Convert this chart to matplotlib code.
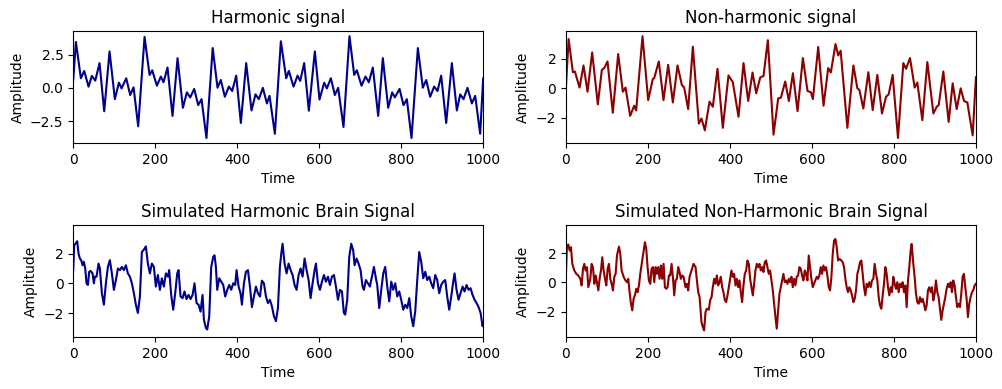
import numpy as np
import matplotlib
matplotlib.use("Agg")
import matplotlib.pyplot as plt

# (time, amplitude) pairs
harmonic = [
    (0, 0.6), (6.5, 3.45), (18.7, 0.72), (26.8, 1.27), (37.4, 0.09), (45.5, 0.9), (53.7, 0.54),
    (64.2, 1.86), (75.6, -1.76), (88.6, 2.74), (101.6, -0.85), (111.4, 0.39), (117.9, -0.04),
    (129.3, 0.72), (139, -0.54), (147.2, 0.04), (158.5, -2.89), (174, 3.83), (186.2, 0.97),
    (192.7, 1.32), (204.1, 0.16), (213.8, 0.85), (220.3, 0.42), (230, 1.53), (242.2, -2.11),
    (254.5, 2.23), (267.5, -1.5), (277.2, -0.34), (285.4, -0.72), (295.1, -0.08), (304.9, -1.3),
    (313, -0.85), (325, -3.77), (340.2, 2.99), (352, 0.01), (360, 0.59), (369.9, -0.67),
    (379.7, 0.1), (387.8, -0.24), (397.6, 0.92), (408.9, -2.64), (421.9, 1.86), (434.9, -1.7),
    (444.7, -0.49), (452.8, -0.85), (462.6, 0.0), (472.4, -1.17), (478.9, -0.6), (491.9, -3.45),
    (506.5, 3.5), (519.5, 0.72), (526, 1.27), (537.4, 0.09), (547.2, 0.92), (553.7, 0.52),
    (563.4, 1.86), (574.8, -1.72), (589.4, 2.74), (600.8, -0.88), (612.2, 0.39), (618.7, -0.04),
    (628.5, 0.72), (638.2, -0.54), (646.3, 0.0), (659.3, -2.94), (673.9, 3.88), (685.4, 0.97),
    (691.9, 1.32), (703.3, 0.16), (713, 0.85), (721.1, 0.42), (730.9, 1.53), (743.9, -2.11),
    (755.3, 2.23), (768.3, -1.5), (778, -0.34), (784.6, -0.72), (796, -0.08), (805.7, -1.3),
    (813.8, -0.85), (825.2, -3.77), (840.7, 2.99), (852.8, 0.01), (861, 0.59), (870.7, -0.67),
    (880.5, 0.1), (888.6, -0.24), (897.6, 0.92), (909.8, -2.64), (923.6, 1.86), (935.8, -1.7),
    (943.9, -0.49), (952, -0.85), (961.8, 0.0), (972.4, -1.17), (980.5, -0.6), (992.7, -3.45),
    (1000, 0.7),
]

non_harmonic = [
    (0, 0.12), (6.4, 3.34), (16.9, 1.09), (21.7, 1.14), (33.1, 0.05), (42.8, 1.55), (52.6, -0.23),
    (63.9, 2.43), (77.7, -1.09), (87.5, 1.25), (93.2, 1.37), (101.3, 1.82), (114.3, -1.66),
    (127.3, 2.32), (138.7, -0.23), (145.2, 0.05), (156.6, -1.87), (166.3, -1.18), (171.2, -1.5),
    (186.7, 3.53), (200.5, -0.8), (211.9, 0.64), (215.1, 0.68), (226.5, 1.82), (237.9, -0.8),
    (249.3, 1.59), (260.7, -0.96), (272.1, 1.55), (282.6, 0.23), (288.3, 0.05), (298.1, -1.41),
    (309.5, 2.82), (324.1, -2.39), (330.6, -2.05), (338.7, -2.85), (350.1, -0.91), (358.2, -1.25),
    (369.6, 1.32), (382.6, -2.68), (396.4, 0.87), (407, 0.41), (420.9, -1.93), (433.1, 1.71),
    (444.5, -0.86), (455.1, 1.07), (464, -0.34), (473.8, 0.73), (481.9, 0.84), (492.5, 3.26),
    (506.3, -3.14), (517.7, -0.68), (524.2, -0.64), (534.8, 0.46), (543.7, -0.86), (553.5, 1.02),
    (564.9, -1.55), (577.9, 2.05), (589.2, -0.18), (597.4, -0.27), (602.3, -0.73), (615.3, 2.8),
    (628.3, -1.18), (639.6, 1.37), (646.1, 1.07), (657.5, 3.0), (664, 2.23), (670, 2.55),
    (686.4, -2.68), (701.1, 1.55), (710.8, 0.0), (715.7, -0.11), (725.4, -1.37), (737.6, 1.09),
    (748.2, -1.48), (759.5, 0.91), (770.9, -1.71), (780.7, -0.57), (787.2, -0.41), (796.9, 0.91),
    (809.9, -3.37), (822.9, 1.71), (829.5, 1.32), (839.2, 2.05), (850.6, 0.05), (857.1, 0.39),
    (869.3, -2.16), (881.5, 1.78), (896.2, -1.71), (904.3, -1.25), (909.2, -1.14), (920.5, 1.14),
    (933.5, -2.28), (943.3, 0.34), (953.1, -1.41), (962.8, 0.0), (971, -0.86), (979.1, -0.96),
    (992.1, -3.19), (1000, 0.75),
]

brain_harmonic = [
    (0, 0.9), (2.4, 2.57), (6.5, 2.72), (9.8, 2.85), (13, 2.01), (16.3, 1.68), (19.5, 1.57),
    (22.8, 1.23), (26, 1.46), (29.3, 1.01), (32.5, 0.01), (35.8, -0.1), (39, 0.79), (42.3, 0.85),
    (47.2, 0.68), (50.4, 0.01), (52.8, 0.46), (56.9, 0.46), (61.8, 1.34), (65, 1.01), (69.9, -0.66),
    (74.8, -1.43), (79.7, 0.01), (84.6, 1.12), (89.4, 1.57), (94.3, 0.68), (99.2, -0.43),
    (104.1, 0.23), (109, 1.01), (113.8, 0.9), (118.7, 1.12), (123.6, 0.9), (128.5, 1.23),
    (133.3, 0.68), (138.2, 0.46), (143.1, 0.01), (148, -0.66), (152.8, -1.43), (157.7, -1.99),
    (162.6, -0.88), (167.5, 2.12), (172.3, 2.28), (177.2, 2.5), (182.1, 1.34), (187, 0.68),
    (191.8, 1.34), (196.7, 1.12), (201.6, -0.21), (206.5, 0.57), (211.4, -0.43), (216.2, 0.35),
    (221.1, -0.21), (226, 0.68), (230.9, 0.46), (234.1, 0.9), (239, -0.77), (243.9, -1.77),
    (248.8, -0.66), (253.7, 0.68), (256.9, 0.9), (261.8, -0.88), (266.7, -0.99), (271.5, -0.54),
    (276.4, -1.05), (281.3, -0.77), (286.2, -1.05), (291.1, -0.77), (295.9, 0.01), (300.8, -1.32),
    (305.7, -1.43), (310.6, -1.9), (315.5, -0.77), (318.8, -2.43), (323.6, -3.0), (326.9, -3.1),
    (331.8, -2.21), (336.6, 1.1), (341.5, 1.79), (344.7, 1.9), (348, 1.12), (351.3, -0.43),
    (356.2, 0.35), (361, 0.12), (365.9, -0.1), (370.8, -0.88), (375.7, -0.43), (380.6, -0.1),
    (385.4, -0.43), (390.3, 0.01), (395.2, -0.1), (398.5, 0.9), (403.4, -0.21), (408.2, -0.66),
    (411.5, -1.43), (416.4, 0.01), (421.3, 0.79), (426.2, 0.9), (431.1, -0.21), (435.9, -1.59),
    (440.8, -0.88), (445.7, -0.21), (450.6, -0.66), (455.5, -0.88), (460.3, 0.19), (465.2, 0.01),
    (470.1, -0.88), (475, -1.32), (479.8, -1.1), (484.7, -1.54), (489.6, -2.21), (494.5, -2.54),
    (499.3, -1.66), (504.2, 1.12), (507.5, 2.01), (510.7, 2.68), (515.6, 1.34), (520.5, 0.68),
    (525.4, 1.34), (530.3, 0.9), (535.1, 0.57), (540, -0.1), (544.9, -0.43), (549.8, 0.57),
    (554.7, 1.01), (559.5, 0.46), (564.4, 1.68), (569.3, 0.9), (574.2, 0.23), (579, -0.99),
    (583.9, 0.01), (588.8, 0.9), (592.1, 1.34), (597, 0.01), (601.8, -0.43), (606.7, 0.12),
    (611.6, 0.57), (616.5, 0.12), (621.4, 0.46), (626.2, -0.1), (631.1, 0.46), (636, 0.57),
    (640.9, -0.21), (645.8, -1.1), (650.7, -0.43), (655.5, -0.54), (660.2, -1.99), (663.5, -2.1),
    (668.4, -1.1), (673.3, 1.79), (678.2, 2.68), (683, 2.23), (686.3, 1.23), (691.2, 1.68),
    (696.1, 1.34), (700.9, 0.9), (705.8, -0.21), (709.1, -0.43), (714, 0.23), (718.8, 0.01),
    (723.7, -0.21), (728.6, 0.46), (733.5, 1.12), (738.3, 0.35), (741.6, -0.1), (746.5, -1.66),
    (751.4, -0.43), (756.3, 0.68), (761.1, 1.12), (766, -0.21), (770.9, -1.21), (775.8, 0.12),
    (780.6, -0.43), (785.5, 0.01), (790.4, -0.88), (795.3, -0.54), (800.1, -1.1), (805, -1.77),
    (809.9, -1.43), (814.8, -1.66), (819.7, -0.99), (824.5, -2.21), (829.4, -2.88), (834.3, -1.88),
    (839.2, 0.23), (844, 2.12), (848.9, 1.46), (853.8, 0.35), (858.7, 0.79), (863.6, 0.23),
    (868.4, 0.46), (873.3, 0.01), (878.2, -0.32), (883.1, 0.57), (888, 0.23), (892.8, -0.66),
    (897.7, -0.1), (902.6, 0.12), (907.5, 0.23), (912.3, -0.88), (917.2, -1.77), (922.1, -0.88),
    (927, 0.12), (930.2, 0.68), (935.1, -0.43), (940, -1.1), (944.9, -0.66), (949.8, -0.21),
    (954.6, -0.54), (959.5, -0.1), (964.4, -0.43), (969.3, -0.32), (974.1, -0.77), (979, -1.1),
    (983.9, -1.32), (988.8, -1.59), (993.7, -1.99), (998.5, -2.88), (1000, -2.7),
]

brain_non_harmonic = [
    (0, 0.59), (2.4, 2.52), (5.7, 2.59), (8.9, 2.18), (12.2, 2.41), (15.4, 1.27), (20.3, 0.82),
    (25.2, 0.59), (30.1, 0.48), (35, 0.25), (38.2, -0.2), (41.5, 0.93), (44.7, 1.27), (48, 0.82),
    (51.2, 1.05), (54.5, -0.32), (59.4, 0.25), (62.6, 1.27), (65.9, 1.05), (69.1, -0.09),
    (72.4, 0.48), (75.6, 0.02), (78.9, -0.54), (82.1, 0.25), (85.4, 0.82), (88.6, 1.72),
    (91.9, 0.82), (95.1, 0.25), (98.4, -0.2), (101.6, 0.93), (104.9, 1.27), (108.1, 0.25),
    (111.4, -0.09), (114.6, -0.54), (117.9, 0.39), (121.1, 0.59), (124.4, 1.84), (129.2, 2.45),
    (132.5, 1.95), (135.7, 0.82), (140.6, 0.39), (143.9, 0.2), (148.7, 0.02), (152, 0.25),
    (155.2, -0.66), (158.5, -1.45), (161.7, -1.9), (165, -1.1), (168.2, -0.88), (171.5, -0.43),
    (174.7, -0.66), (178, -0.2), (181.2, 0.59), (186.1, 1.5), (189.3, 2.07), (192.6, 2.75),
    (195.8, 2.3), (199.1, 1.05), (202.3, 0.14), (205.6, -0.09), (208.8, 0.93), (212.1, 1.05),
    (215.3, 0.02), (218.6, 1.05), (221.8, 0.59), (225.1, 1.05), (228.3, 0.25), (231.6, 1.16),
    (234.8, 0.25), (238.1, 1.27), (241.3, -0.32), (244.6, -0.43), (247.8, -0.32), (251.1, 0.48),
    (254.3, 0.48), (257.6, 1.27), (260.8, 0.39), (264.1, -0.88), (267.3, 0.14), (270.6, 0.25),
    (273.8, 1.05), (277.1, 0.71), (280.3, 0.25), (283.6, 0.48), (286.8, 0.39), (291.7, -0.32),
    (295, -0.09), (298.2, -0.54), (301.5, 0.39), (306.3, 0.82), (311.2, 1.27), (316.1, 1.05),
    (319.4, 0.14), (322.6, -0.66), (325.9, -1.0), (330.6, -2.7), (333.8, -3.04), (337, -3.27),
    (340.3, -2.02), (343.6, -1.79), (348.4, -1.86), (351.7, -1.2), (355, -1.02), (358.2, -0.32),
    (361.5, 0.25), (364.7, -0.09), (368, 0.48), (371.2, -0.2), (374.5, 0.02), (377.7, 0.39),
    (381, -0.32), (384.2, -0.66), (387.5, -1.2), (390.7, -1.34), (394, -0.88), (397.2, -0.32),
    (400.5, 0.25), (403.7, 0.82), (407, 0.39), (410.2, 0.59), (413.5, -0.2), (416.7, 0.25),
    (420, -0.32), (423.2, 0.14), (426.5, -0.66), (429.7, -1.34), (433, -0.2), (436.2, 0.59),
    (439.5, 0.82), (442.7, 1.5), (446, 1.27), (449.2, 0.25), (452.5, -0.32), (455.7, -0.88),
    (459, -0.09), (462.2, 0.82), (465.5, 1.27), (468.7, 1.05), (472, 1.27), (475.2, 0.82),
    (478.5, 1.05), (481.7, 0.71), (485, 1.39), (488.2, 1.5), (491.5, 1.05), (494.7, 0.59),
    (498, 0.82), (501.2, 0.14), (504.5, -0.54), (507.7, -1.45), (511, -2.36), (514.2, -3.15),
    (517.5, -1.9), (520.7, -0.77), (524, -0.32), (527.2, 0.14), (530.5, 0.59), (533.7, 0.02),
    (537, 0.14), (540.2, -0.09), (543.5, 0.25), (546.7, 0.02), (550, 0.39), (553.2, -0.32),
    (556.5, 0.25), (559.7, -0.2), (563, 0.39), (566.2, 0.48), (569.5, 1.05), (572.7, 0.93),
    (576, 0.48), (579.2, 0.14), (582.5, 0.82), (585.7, 0.59), (589, 0.14), (592.2, 1.84),
    (595.5, 1.05), (598.7, 0.25), (602, -0.32), (605.2, -0.09), (608.5, 0.14), (611.7, 0.39),
    (615, 0.25), (618.2, 0.48), (621.5, 1.05), (624.7, 0.59), (628, 1.16), (631.2, 0.82),
    (634.5, 1.05), (637.7, 0.48), (641, -0.32), (644.2, -0.54), (647.5, 0.39), (650.7, 1.95),
    (654, 2.86), (657.2, 2.97), (660.5, 2.41), (663.7, 1.5), (667, 1.61), (671.8, 1.5),
    (675, 1.39), (678.3, 1.05), (681.5, 0.25), (684.8, -0.32), (688, -0.66), (691.3, -0.32),
    (694.5, -0.54), (697.8, -0.88), (701, -1.34), (704.3, -1.11), (707.5, -0.54), (710.8, 0.59),
    (714, 0.93), (717.3, 1.39), (720.5, 1.5), (723.8, 0.59), (727, -0.32), (730.3, -0.88),
    (733.5, -0.09), (736.8, -0.32), (740, 0.02), (743.3, -0.32), (746.5, 0.14), (749.8, 0.25),
    (753, 1.27), (756.3, 0.59), (759.5, 0.14), (762.8, -1.0), (766, -1.57), (769.3, -1.79),
    (772.5, -0.88), (775.8, -0.09), (779, 1.05), (782.3, 0.59), (785.5, -0.32), (788.8, -0.88),
    (792, -0.32), (795.3, -0.66), (798.5, 0.39), (801.8, -0.09), (805, -0.43), (808.3, 0.02),
    (811.5, -0.66), (814.8, -0.09), (818, -0.32), (821.3, 0.02), (824.5, -0.66), (827.8, -0.2),
    (831, -1.68), (834.3, 0.14), (837.5, 1.05), (840.8, 2.18), (843.2, 2.63), (847.3, 1.27),
    (850.5, 0.39), (853.8, -0.77), (857, -1.34), (860.3, -1.45), (863.5, -1.0), (866.8, -1.34),
    (870, -1.11), (873.3, -1.45), (876.5, -1.9), (879.8, -1.57), (883, -0.54), (886.3, -0.32),
    (889.5, -0.66), (892.8, -0.32), (896, -1.22), (899.3, -0.77), (902.5, 0.14), (905.8, -0.66),
    (909, -1.0), (912.3, -1.79), (915.5, -2.55), (918.8, -1.9), (922, -1.45), (925.3, -1.0),
    (928.5, -0.43), (931.8, -0.09), (935, -0.32), (938.3, 0.02), (941.5, -0.66), (944.8, 0.14),
    (948, -0.2), (951.3, -1.0), (954.5, -1.68), (957.8, -1.45), (961, -1.68), (964.3, -0.77),
    (967.5, 0.39), (970.8, 0.59), (974, -0.32), (977.3, -1.11), (980.5, -2.36), (983.8, -1.45),
    (987, -1.0), (990.3, -0.66), (993.5, -0.54), (996.8, -0.2), (1000, -0.09),
]

panels = [
    ("Harmonic signal", harmonic, "darkblue", None),
    ("Non-harmonic signal", non_harmonic, "darkred", None),
    ("Simulated Harmonic Brain Signal", brain_harmonic, "darkblue", (-3.6, 3.95)),
    ("Simulated Non-Harmonic Brain Signal", brain_non_harmonic, "darkred", (-3.71, 3.93)),
]


def main() -> None:
    fig, axes = plt.subplots(2, 2, figsize=(10.03, 3.89), dpi=100)
    fig.subplots_adjust(left=0.073, right=0.973, top=0.920, bottom=0.134,
                        wspace=0.202, hspace=0.73)
    for ax, (title, series, color, ylim) in zip(axes.flat, panels):
        t, a = np.array(series).T
        ax.plot(t, a, color=color, lw=1.5)
        ax.set_title(title)
        ax.set_xlabel("Time")
        ax.set_ylabel("Amplitude")
        ax.set_xlim(0, 1000)
        if ylim:
            ax.set_ylim(*ylim)
    fig.savefig("out.png")


if __name__ == "__main__":
    main()
